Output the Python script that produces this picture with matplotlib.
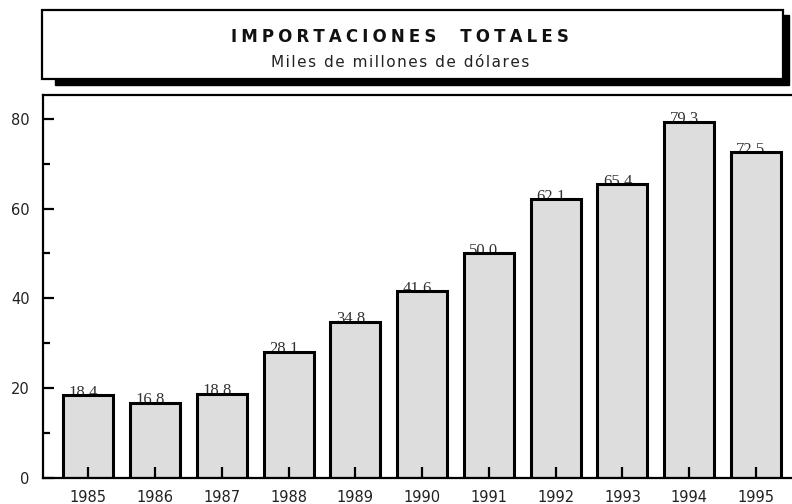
import matplotlib
matplotlib.use('Agg')
import matplotlib.pyplot as plt
from matplotlib.patches import Rectangle
from matplotlib.ticker import MultipleLocator
import numpy as np

years = ['1985', '1986', '1987', '1988', '1989', '1990',
	'1991', '1992', '1993', '1994', '1995']
imports = [18.4, 16.8, 18.8, 28.1, 34.8, 41.6, 50.0, 62.1, 65.4, 79.3, 72.5]

title = 'IMPORTACIONES  TOTALES'
subtitle = 'Miles de millones de dólares'

def spaced(s, gap):
	# poor man's letter spacing
	return gap.join(s)

f = plt.figure(figsize=(7.92, 5.04), dpi=100)

# Title box with drop shadow
f.patches.append(Rectangle((0.0694, 0.8313), 0.9268, 0.1389,
	transform=f.transFigure, facecolor='k', edgecolor='k', zorder=1))
f.patches.append(Rectangle((0.053, 0.8433), 0.9356, 0.1369,
	transform=f.transFigure, facecolor='w', edgecolor='k', lw=1.6, zorder=2))
f.text(0.505, 1 - 37./504, spaced(title, '\u2005'), ha='center', va='center',
	fontsize=12, fontweight='bold', color='#111111', zorder=3)
f.text(0.505, 1 - 62.5/504, spaced(subtitle, '\u200a'), ha='center', va='center',
	fontsize=11, color='#222222', zorder=3)

ax = f.add_axes([0.0543, 0.0516, 0.9457, 0.76])
x = np.arange(len(years))
ax.bar(x, imports, width=0.75, color='#dddddd', edgecolor='k', lw=2.2, zorder=2)

for xi, v in zip(x, imports):
	ax.annotate('%.1f' % v, (xi, v), xytext=(-3.6, -1.0), textcoords='offset points',
		ha='center', va='baseline', fontsize=12, family='Liberation Serif',
		color='#333333', zorder=1)

ax.set_xlim(-0.68, 10.54)
ax.set_ylim(0, 85.3)
ax.set_xticks(x)
ax.set_xticklabels(years)
ax.yaxis.set_major_locator(MultipleLocator(20))
ax.yaxis.set_minor_locator(MultipleLocator(10))

for s in ['left', 'bottom', 'top']:
	ax.spines[s].set_linewidth(1.6)
ax.spines['right'].set_visible(False)

ax.tick_params(axis='x', direction='in', length=8, width=1.6, pad=8.5,
	labelsize=10.5, labelcolor='#222222')
ax.tick_params(axis='y', which='major', direction='in', length=8, width=1.6, pad=9.5,
	labelsize=10.5, labelcolor='#222222')
ax.tick_params(axis='y', which='minor', direction='in', length=5, width=1.6)
for t in ax.get_xticklines():
	t.set_zorder(5)
ax.set_axisbelow(False)

f.savefig('out.png', dpi=100)
